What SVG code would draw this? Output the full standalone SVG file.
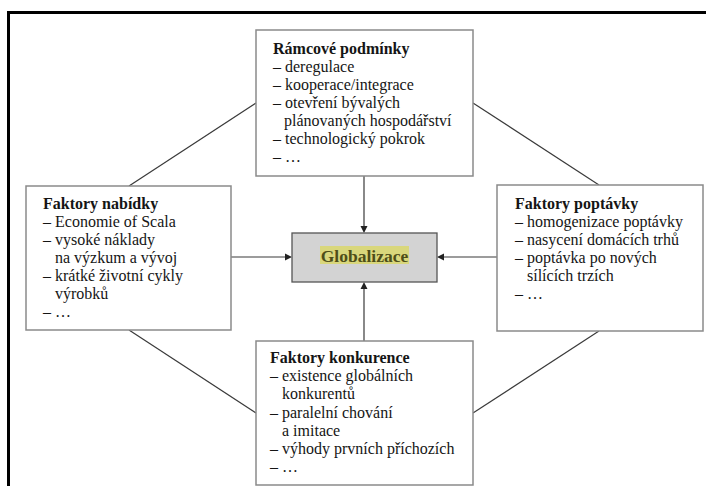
<svg xmlns="http://www.w3.org/2000/svg" width="706" height="486" viewBox="0 0 706 486">
<rect x="0" y="0" width="706" height="486" fill="#fff"/>
<path d="M8.5 490 V12.5 H712" fill="none" stroke="#000" stroke-width="3"/>
<g id="connectors" stroke="#3a3a3a" stroke-width="1.2" fill="none">
<line x1="256" y1="103" x2="129" y2="186"/>
<line x1="473" y1="103" x2="599" y2="185"/>
<line x1="129" y1="330" x2="256" y2="413"/>
<line x1="599" y1="331" x2="473" y2="413"/>
<line x1="364" y1="176" x2="364" y2="226"/>
<line x1="364" y1="341" x2="364" y2="289"/>
<line x1="231" y1="257" x2="285" y2="257"/>
<line x1="497" y1="257" x2="444" y2="257"/>
<path d="M360.5 226 L367.5 226 L364 233 Z M360.5 289 L367.5 289 L364 282 Z M285 253.5 L285 260.5 L292 257 Z M444 253.5 L444 260.5 L437 257 Z" fill="#222" stroke="none"/>
</g>
<g id="ramcove">
<rect x="256" y="30" width="217" height="146" fill="#fff" stroke="#8a8a8a" stroke-width="1.5"/>
<text font-family="Liberation Serif, Times New Roman, serif" font-size="16" fill="#151515" font-weight="bold" x="273" y="54">Rámcové podmínky</text>
<text font-family="Liberation Serif, Times New Roman, serif" font-size="16" fill="#151515" x="273" y="72">– deregulace</text>
<text font-family="Liberation Serif, Times New Roman, serif" font-size="16" fill="#151515" x="273" y="90">– kooperace/integrace</text>
<text font-family="Liberation Serif, Times New Roman, serif" font-size="16" fill="#151515" x="273" y="108">– otevření bývalých</text>
<text font-family="Liberation Serif, Times New Roman, serif" font-size="16" fill="#151515" x="284" y="126">plánovaných hospodářství</text>
<text font-family="Liberation Serif, Times New Roman, serif" font-size="16" fill="#151515" x="273" y="144">– technologický pokrok</text>
<text font-family="Liberation Serif, Times New Roman, serif" font-size="16" fill="#151515" x="273" y="162">– …</text>
</g>
<g id="nabidka">
<rect x="26" y="186" width="205" height="144" fill="#fff" stroke="#8a8a8a" stroke-width="1.5"/>
<text font-family="Liberation Serif, Times New Roman, serif" font-size="16" fill="#151515" font-weight="bold" x="43" y="209">Faktory nabídky</text>
<text font-family="Liberation Serif, Times New Roman, serif" font-size="16" fill="#151515" x="43" y="227">– Economie of Scala</text>
<text font-family="Liberation Serif, Times New Roman, serif" font-size="16" fill="#151515" x="43" y="245">– vysoké náklady</text>
<text font-family="Liberation Serif, Times New Roman, serif" font-size="16" fill="#151515" x="55" y="263">na výzkum a vývoj</text>
<text font-family="Liberation Serif, Times New Roman, serif" font-size="16" fill="#151515" x="43" y="281">– krátké životní cykly</text>
<text font-family="Liberation Serif, Times New Roman, serif" font-size="16" fill="#151515" x="55" y="299">výrobků</text>
<text font-family="Liberation Serif, Times New Roman, serif" font-size="16" fill="#151515" x="43" y="317">– …</text>
</g>
<g id="poptavka">
<rect x="497" y="185" width="206" height="146" fill="#fff" stroke="#8a8a8a" stroke-width="1.5"/>
<text font-family="Liberation Serif, Times New Roman, serif" font-size="16" fill="#151515" font-weight="bold" x="515" y="209">Faktory poptávky</text>
<text font-family="Liberation Serif, Times New Roman, serif" font-size="16" fill="#151515" x="515" y="227">– homogenizace poptávky</text>
<text font-family="Liberation Serif, Times New Roman, serif" font-size="16" fill="#151515" x="515" y="245">– nasycení domácích trhů</text>
<text font-family="Liberation Serif, Times New Roman, serif" font-size="16" fill="#151515" x="515" y="263">– poptávka po nových</text>
<text font-family="Liberation Serif, Times New Roman, serif" font-size="16" fill="#151515" x="527" y="281">sílících trzích</text>
<text font-family="Liberation Serif, Times New Roman, serif" font-size="16" fill="#151515" x="515" y="299">– …</text>
</g>
<g id="konkurence">
<rect x="256" y="341" width="217" height="144" fill="#fff" stroke="#8a8a8a" stroke-width="1.5"/>
<text font-family="Liberation Serif, Times New Roman, serif" font-size="16" fill="#151515" font-weight="bold" x="270" y="363">Faktory konkurence</text>
<text font-family="Liberation Serif, Times New Roman, serif" font-size="16" fill="#151515" x="270" y="381">– existence globálních</text>
<text font-family="Liberation Serif, Times New Roman, serif" font-size="16" fill="#151515" x="282" y="399">konkurentů</text>
<text font-family="Liberation Serif, Times New Roman, serif" font-size="16" fill="#151515" x="270" y="418">– paralelní chování</text>
<text font-family="Liberation Serif, Times New Roman, serif" font-size="16" fill="#151515" x="282" y="436">a imitace</text>
<text font-family="Liberation Serif, Times New Roman, serif" font-size="16" fill="#151515" x="270" y="454">– výhody prvních příchozích</text>
<text font-family="Liberation Serif, Times New Roman, serif" font-size="16" fill="#151515" x="270" y="472">– …</text>
</g>
<g id="globalizace">
<rect x="292" y="233" width="145" height="49" fill="#d3d3d3" stroke="#555" stroke-width="1.3"/>
<rect x="320" y="246" width="89" height="18" fill="#d9d77c"/>
<text font-family="Liberation Serif, Times New Roman, serif" font-size="17.5" font-weight="bold" fill="#4e4e18" x="364.5" y="262" text-anchor="middle">Globalizace</text>
</g>
</svg>
